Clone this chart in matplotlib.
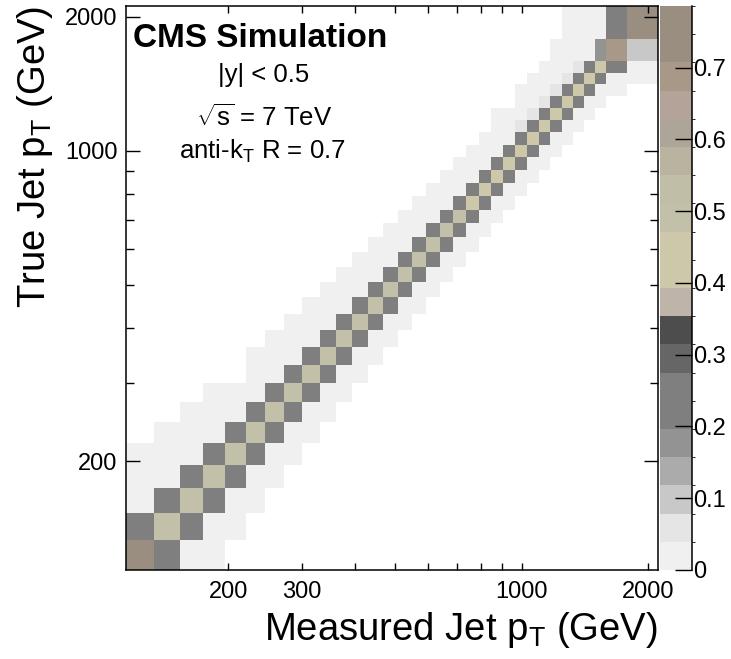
import numpy as np
import matplotlib
matplotlib.use("Agg")
import matplotlib.pyplot as plt
from matplotlib.colors import ListedColormap, BoundaryNorm
from matplotlib.ticker import FixedLocator, NullFormatter

plt.rcParams['font.family'] = ['Liberation Sans', 'DejaVu Sans']
plt.rcParams['mathtext.fontset'] = 'custom'
plt.rcParams['mathtext.rm'] = 'Liberation Sans'
plt.rcParams['mathtext.it'] = 'Liberation Sans:italic'
plt.rcParams['mathtext.bf'] = 'Liberation Sans:bold'

# jet pT binning (GeV), same for measured and true axes
edges = [114, 133, 153, 174, 196, 220, 245, 272, 300, 330, 362, 395, 430, 468,
         507, 548, 592, 638, 686, 737, 790, 846, 905, 967, 1032, 1101, 1172,
         1248, 1327, 1410, 1497, 1588, 1784, 2116]

# response matrix, one entry per true-pT bin (row)
diag = [0.77, 0.50, 0.50, 0.50, 0.50, 0.50, 0.50, 0.50, 0.50, 0.50, 0.50,
        0.50, 0.50, 0.50, 0.50, 0.50, 0.50, 0.50, 0.50, 0.43, 0.43, 0.43,
        0.43, 0.43, 0.43, 0.43, 0.43, 0.43, 0.43, 0.43, 0.43, 0.69, 0.77]
# migration into the neighbouring lower / upper measured bin
below = [0.00, 0.23, 0.23, 0.23, 0.23, 0.23, 0.23, 0.23, 0.23, 0.23, 0.23,
         0.23, 0.23, 0.23, 0.23, 0.23, 0.23, 0.23, 0.23, 0.23, 0.23, 0.23,
         0.23, 0.23, 0.23, 0.23, 0.23, 0.23, 0.23, 0.23, 0.23, 0.18, 0.23]
above = [0.23, 0.23, 0.23, 0.23, 0.23, 0.23, 0.23, 0.23, 0.23, 0.23, 0.23,
         0.23, 0.23, 0.23, 0.23, 0.23, 0.23, 0.23, 0.23, 0.23, 0.23, 0.23,
         0.23, 0.23, 0.23, 0.23, 0.23, 0.23, 0.23, 0.23, 0.23, 0.10, 0.00]
# two bins below the diagonal (only where it stands out of the tail)
below2 = [0.00, 0.00, 0.00, 0.00, 0.00, 0.00, 0.00, 0.00, 0.00, 0.00, 0.00,
          0.00, 0.00, 0.00, 0.00, 0.00, 0.00, 0.00, 0.00, 0.00, 0.00, 0.00,
          0.00, 0.00, 0.00, 0.06, 0.06, 0.06, 0.06, 0.06, 0.06, 0.00, 0.00]
# resolution tails: first and last measured bin with a small non-zero content
tail_lo = [0, 0, 0, 0, 0, 1, 2, 3, 5, 5, 6, 7, 8, 9, 10, 11, 12, 13, 14, 15,
           16, 17, 18, 19, 20, 21, 21, 23, 23, 24, 25, 26, 27]
tail_hi = [3, 4, 5, 6, 7, 8, 9, 10, 11, 12, 13, 14, 15, 16, 17, 18, 19, 20,
           21, 22, 23, 24, 25, 26, 27, 28, 29, 30, 31, 32, 32, 32, 32]
tail = 0.02

nb = len(edges) - 1
resp = np.zeros((nb, nb))
for i in range(nb):
    resp[i, tail_lo[i]:tail_hi[i] + 1] = tail
    if i >= 2 and below2[i] > 0:
        resp[i, i - 2] = below2[i]
    if i >= 1:
        resp[i, i - 1] = below[i]
    if i < nb - 1:
        resp[i, i + 1] = above[i]
    resp[i, i] = diag[i]
resp = np.ma.masked_equal(resp, 0)

# 20-level palette
pal = ['#f0f0f0', '#e5e5e5', '#c8c8c8', '#ababab', '#939393',
       '#7f7f7f', '#7f7f7f', '#666666', '#4d4d4d', '#bfb4aa',
       '#cec8aa', '#cec8aa', '#c2c0a8', '#c0bea6', '#b8b4a0',
       '#ada598', '#b3a398', '#a89888', '#9a8e80', '#9a8e80']
zmax = 0.786
cmap = ListedColormap(pal)
norm = BoundaryNorm(np.linspace(0, zmax, len(pal) + 1), len(pal))

fig = plt.figure(figsize=(7.31, 6.59), dpi=100)
ax = fig.add_axes([0.1724, 0.1351, 0.7278, 0.8558])
cax = fig.add_axes([0.9029, 0.1351, 0.0438, 0.8558])

mesh = ax.pcolormesh(edges, edges, resp, cmap=cmap, norm=norm)
ax.set_xscale('log')
ax.set_yscale('log')
ax.set_xlim(edges[0], edges[-1])
ax.set_ylim(edges[0], edges[-1])

ax.xaxis.set_major_locator(FixedLocator([200, 300, 1000, 2000]))
ax.xaxis.set_minor_locator(FixedLocator([400, 500, 600, 700, 800, 900]))
ax.xaxis.set_major_formatter(plt.FuncFormatter(lambda v, p: '%d' % v))
ax.xaxis.set_minor_formatter(NullFormatter())
ax.yaxis.set_major_locator(FixedLocator([200, 1000, 2000]))
ax.yaxis.set_minor_locator(FixedLocator([300, 400, 500, 600, 700, 800, 900]))
ax.yaxis.set_major_formatter(plt.FuncFormatter(lambda v, p: '%d' % v))
ax.yaxis.set_minor_formatter(NullFormatter())

ax.tick_params(axis='both', which='both', direction='in', top=True, right=True,
               labelsize=17, width=1)
ax.tick_params(axis='x', which='both', length=5, pad=8)
ax.tick_params(axis='y', which='major', length=10, pad=6)
ax.tick_params(axis='y', which='minor', length=6)
for sp in ax.spines.values():
    sp.set_linewidth(1.1)

ax.set_xlabel(r'Measured Jet p$_\mathregular{T}$ (GeV)', fontsize=27.5,
              ha='right', x=1.0, labelpad=5)
ax.set_ylabel(r'True Jet p$_\mathregular{T}$ (GeV)', fontsize=27.5,
              ha='right', y=1.0, labelpad=7)

ax.text(0.253, 0.927, 'CMS Simulation', transform=ax.transAxes,
        fontsize=24, fontweight='bold', ha='center', va='baseline')
ax.text(0.259, 0.865, '|y| < 0.5', transform=ax.transAxes,
        fontsize=18.5, ha='center', va='baseline')
ax.text(0.26, 0.787, r'$\sqrt{\mathregular{s}}$ = 7 TeV',
        transform=ax.transAxes, fontsize=18.5, ha='center', va='baseline')
ax.text(0.257, 0.729, r'anti-k$_\mathregular{T}$ R = 0.7',
        transform=ax.transAxes, fontsize=18.5, ha='center', va='baseline')

cbar = fig.colorbar(mesh, cax=cax, ticks=[0, 0.1, 0.2, 0.3, 0.4, 0.5, 0.6, 0.7])
cbar.outline.set_visible(False)
cax.spines['right'].set_visible(True)
cax.spines['right'].set_linewidth(1.1)
cax.yaxis.set_major_formatter(plt.FuncFormatter(lambda v, p: '0' if v == 0 else '%.1f' % v))
cax.tick_params(axis='y', direction='in', length=12, width=1, labelsize=17, pad=1)

fig.savefig('out.png', dpi=100)
